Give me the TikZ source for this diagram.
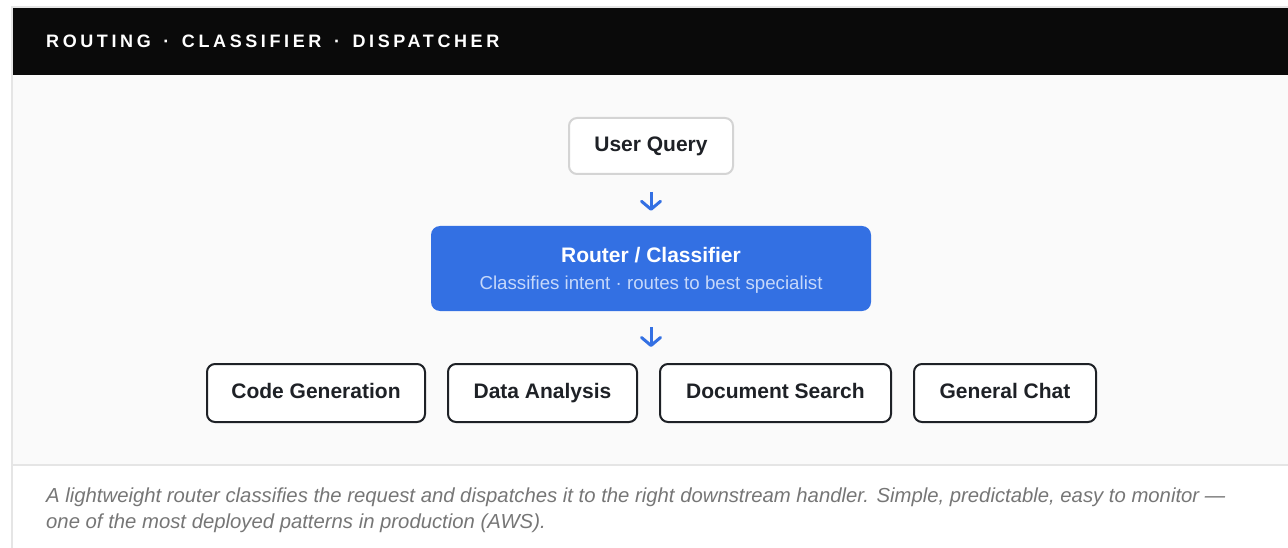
\documentclass[tikz,border=0pt]{standalone}
\usepackage{fontspec}
\setmainfont{Liberation Sans}
\newfontfamily\headfont[LetterSpace=20]{Liberation Sans}
\usepackage{xcolor}
\usetikzlibrary{arrows.meta}
\definecolor{routerblue}{RGB}{51,112,227}
\definecolor{subblue}{RGB}{198,216,250}
\definecolor{ink}{RGB}{30,33,38}
\definecolor{framegray}{RGB}{229,229,229}
\definecolor{querygray}{RGB}{212,212,212}
\definecolor{bodygray}{RGB}{250,250,250}
\definecolor{capgray}{RGB}{118,118,118}
\definecolor{headblack}{RGB}{10,10,10}
\newcommand{\titledot}{\hspace{4pt} · \hspace{4pt}}

\begin{document}
\begin{tikzpicture}[x=1pt, y=-1pt,
    box/.style={draw=ink, line width=2pt, fill=white, rounded corners=8pt,
      minimum height=58pt, inner sep=0pt, text=ink,
      text height=15pt, text depth=4.5pt,
      font=\fontsize{21}{25}\selectfont\bfseries},
    flow/.style={routerblue, line width=3pt,
      -{Straight Barb[length=8pt, width=19pt, round]}},
    caption/.style={anchor=base west, inner sep=0pt, text=capgray,
      font=\fontsize{20.3}{26}\selectfont\itshape}]
  \useasboundingbox (0,0) rectangle (1288,548);
  % frame, header, body
  \draw[framegray, line width=2pt] (12,560) |- (1300,7);
  \fill[headblack] (13,8) rectangle (1288,75);
  \fill[bodygray] (13,75) rectangle (1288,464);
  \draw[framegray, line width=2pt] (13,465) -- (1288,465);
  \node (title) [anchor=west, inner sep=0pt, text=white,
    font=\fontsize{18}{22}\headfont\bfseries] at (46,41)
    {ROUTING\titledot CLASSIFIER\titledot DISPATCHER};

  % query and router
  \node (uq) [box, draw=querygray, minimum width=164pt, minimum height=56pt] at (651,146) {User Query};
  \node (rc) [draw=none, fill=routerblue, rounded corners=9pt, minimum width=440pt,
    minimum height=85pt] at (651,268.5) {};
  \node (rctitle) [text=white, inner sep=0pt, font=\fontsize{21}{25}\selectfont\bfseries]
    at (651,255) {Router / Classifier};
  \node (rcsub) [text=subblue, inner sep=0pt, font=\fontsize{18.7}{22}\selectfont]
    at (651,285) {Classifies intent · routes to best specialist};

  % specialists
  \node (code) [box, minimum width=218pt] at (316,393) {Code Generation};
  \node (data) [box, minimum width=189pt] at (542.5,393) {Data Analysis};
  \node (docs) [box, minimum width=231pt] at (775.5,393) {Document Search};
  \node (chat) [box, minimum width=182pt] at (1005,393) {General Chat};
  \coordinate (fan) at (651,363);

  \draw[flow, shorten <=17pt, shorten >=15pt] (uq) -- (rc);
  \draw[flow, shorten <=16pt, shorten >=16pt] (rc) -- (fan);

  % caption
  \node (cap1) [caption] at (46,502)
    {A lightweight router classifies the request and dispatches it to the right downstream handler. Simple, predictable, easy to monitor —};
  \node (cap2) [caption] at (46,528)
    {one of the most deployed patterns in production (AWS).};
\end{tikzpicture}
\end{document}
